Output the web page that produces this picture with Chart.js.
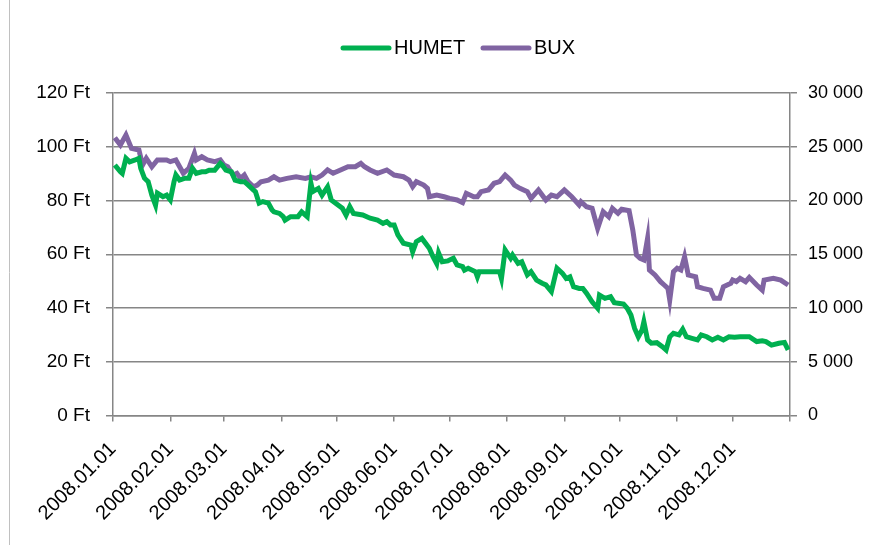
<!DOCTYPE html>
<html>
<head>
<meta charset="utf-8">
<script src="https://cdn.jsdelivr.net/npm/chart.js@4/dist/chart.umd.min.js"></script>
<style>
  html, body { margin: 0; padding: 0; background: #fff; }
  #wrap { position: relative; width: 888px; height: 545px; }
</style>
</head>
<body>
<div id="wrap"><canvas id="chart"></canvas></div>
<script>
// day index counted from 2008.01.01
const humetDays = [1,4,5,7,9,12,14,15,17,19,21,23,24,27,29,31,33,34,36,39,41,43,45,48,50,52,55,58,59,61,64,66,69,71,73,76,77,79,81,84,86,87,90,92,93,96,100,102,105,107,108,111,113,116,118,124,126,128,130,135,139,143,146,148,150,152,154,157,161,162,164,167,171,173,175,176,178,181,182,184,186,189,190,192,196,197,198,209,210,212,215,216,219,221,224,226,229,232,234,237,240,243,245,247,249,252,254,256,259,262,263,266,269,271,274,276,278,280,282,284,286,287,289,291,294,297,299,301,303,306,308,310,313,316,318,321,324,327,330,333,336,339,344,348,351,353,356,360,363,365];
const humetValues = [93.2,90.7,90.1,95.7,94.4,95.1,95.7,92.0,88.3,87.0,82.0,78.3,82.7,81.4,82.0,80.2,87.0,89.5,87.6,88.3,88.3,92.0,90.1,90.7,90.7,91.3,91.3,93.8,93.2,91.3,90.7,87.6,87.0,87.0,85.8,83.9,83.3,79.0,79.6,79.0,76.5,75.8,75.2,74.0,72.7,74.0,74.0,75.8,74.0,86.4,83.3,84.5,82.0,85.1,80.2,77.1,74.6,77.7,75.2,74.6,73.4,72.7,71.5,72.1,70.9,70.9,67.2,64.1,63.4,60.9,64.7,65.9,62.2,59.1,56.5,60.5,57.2,57.5,57.9,58.5,56.0,55.4,54.1,54.8,53.5,51.6,53.5,53.5,51.0,61.6,58.5,59.7,56.6,57.2,52.3,53.5,50.4,49.2,48.6,46.1,54.8,52.9,51.0,51.6,47.9,47.3,47.3,45.5,42.3,39.9,44.8,43.6,44.2,42.0,41.7,41.5,39.9,37.4,32.4,29.3,31.8,34.9,28.1,26.9,27.1,25.6,24.4,29.3,30.6,30.0,32.1,29.3,28.7,28.1,30.0,29.3,28.1,29.1,28.1,29.3,29.1,29.3,29.3,27.5,27.8,27.5,26.2,26.9,27.2,24.4];

const buxDays = [1,4,7,10,14,16,18,21,24,29,31,34,38,41,44,45,48,51,55,58,60,62,65,67,69,71,73,76,78,80,84,87,90,94,99,104,107,110,113,116,119,123,127,131,134,136,139,143,148,152,157,160,162,164,168,170,171,175,179,182,186,189,191,195,197,199,203,206,209,212,215,217,220,224,226,230,234,237,240,244,248,252,253,256,259,262,265,268,270,273,275,279,281,283,285,287,289,290,293,296,298,300,301,303,305,307,309,311,315,316,319,323,325,328,330,334,335,337,339,342,344,348,351,352,357,361,365];
const buxValues = [25840,25160,26090,24850,24700,23300,23930,23140,23770,23770,23610,23770,22530,23000,24390,23770,24070,23770,23610,23770,23300,23140,22370,22530,22060,22370,21750,21280,21440,21750,21900,22210,21900,22060,22210,22060,22210,22060,22370,22840,22530,22840,23140,23140,23460,23140,22840,22530,22840,22370,22210,21900,21280,21750,21440,21130,20350,20510,20350,20200,20050,19800,20670,20350,20350,20820,20980,21600,21750,22370,21900,21440,21130,20820,20200,20980,20050,20510,20350,20980,20350,19580,19890,19420,19270,17410,18960,18490,19270,18810,19180,19050,17260,14930,14620,14470,16480,13530,13070,12450,12140,11830,10740,13380,13690,13530,14770,13070,12910,11980,11830,11670,10900,10900,11980,12300,12600,12450,12760,12450,12850,12140,11670,12600,12760,12600,12140];

const monthStarts = [0,31,60,91,121,152,182,213,244,274,305,335];
const monthLabels = ['2008.01.01','2008.02.01','2008.03.01','2008.04.01','2008.05.01','2008.06.01','2008.07.01','2008.08.01','2008.09.01','2008.10.01','2008.11.01','2008.12.01'];
const yearEnd = 366;

const gray = '#868686';
const font = 'Liberation Sans, Arial, sans-serif';

function toPoints(days, values) {
  return days.map((d, i) => ({ x: d, y: values[i] }));
}

// legend + frame drawn by hand to sit where the original puts them
const legendPlugin = {
  id: 'excelLegend',
  afterDraw(chart) {
    const c = chart.ctx;
    c.save();
    c.strokeStyle = '#c0c0c0';
    c.lineWidth = 1;
    c.beginPath();
    c.moveTo(9.5, 0);
    c.lineTo(9.5, 545);
    c.stroke();
    const items = [
      { ds: chart.data.datasets[0], x: 343 },
      { ds: chart.data.datasets[1], x: 483 }
    ];
    c.font = '20px ' + font;
    c.textBaseline = 'middle';
    c.fillStyle = '#000';
    items.forEach(it => {
      c.strokeStyle = it.ds.borderColor;
      c.lineWidth = 5;
      c.lineCap = 'round';
      c.beginPath();
      c.moveTo(it.x, 48);
      c.lineTo(it.x + 46, 48);
      c.stroke();
      c.fillText(it.ds.label, it.x + 51, 48);
    });
    c.restore();
  }
};

new Chart(document.getElementById('chart'), {
  type: 'line',
  data: {
    datasets: [
      {
        label: 'HUMET',
        data: toPoints(humetDays, humetValues),
        borderColor: '#00B050',
        backgroundColor: '#00B050',
        borderWidth: 5,
        pointRadius: 0,
        tension: 0,
        yAxisID: 'y'
      },
      {
        label: 'BUX',
        data: toPoints(buxDays, buxValues),
        borderColor: '#8064A2',
        backgroundColor: '#8064A2',
        borderWidth: 5,
        pointRadius: 0,
        tension: 0,
        yAxisID: 'y1'
      }
    ]
  },
  options: {
    responsive: true,
    maintainAspectRatio: false,
    animation: false,
    layout: { padding: { top: 93, left: 0, right: 0, bottom: 0 } },
    plugins: {
      legend: { display: false },
      tooltip: { enabled: false }
    },
    scales: {
      x: {
        type: 'linear',
        min: 0,
        max: yearEnd,
        afterBuildTicks(scale) {
          scale.ticks = monthStarts.concat([yearEnd]).map(v => ({ value: v }));
        },
        afterFit(scale) { scale.height = 129.5; },
        ticks: {
          autoSkip: false,
          maxRotation: 45,
          minRotation: 45,
          padding: 16,
          color: '#000',
          font: { family: font, size: 20 },
          callback(v) {
            const i = monthStarts.indexOf(v);
            return i >= 0 ? monthLabels[i] : '';
          }
        },
        grid: { drawOnChartArea: false, tickLength: 6, color: gray, lineWidth: 1.5 },
        border: { color: gray, width: 1.5 }
      },
      y: {
        position: 'left',
        min: 0,
        max: 120,
        afterFit(scale) { scale.width = 113; },
        ticks: {
          stepSize: 20,
          padding: 16,
          color: '#000',
          font: { family: font, size: 19 },
          callback: v => v + ' Ft'
        },
        grid: { color: gray, lineWidth: 1.5, tickLength: 7 },
        border: { color: gray, width: 1.5 }
      },
      y1: {
        position: 'right',
        min: 0,
        max: 30000,
        afterFit(scale) { scale.width = 98; },
        ticks: {
          stepSize: 5000,
          padding: 11,
          color: '#000',
          font: { family: font, size: 18 },
          callback: v => v.toString().replace(/\B(?=(\d{3})+(?!\d))/g, ' ')
        },
        grid: { drawOnChartArea: false, color: gray, lineWidth: 1.5, tickLength: 7 },
        border: { color: gray, width: 1.5 }
      }
    }
  },
  plugins: [legendPlugin]
});
</script>
</body>
</html>
